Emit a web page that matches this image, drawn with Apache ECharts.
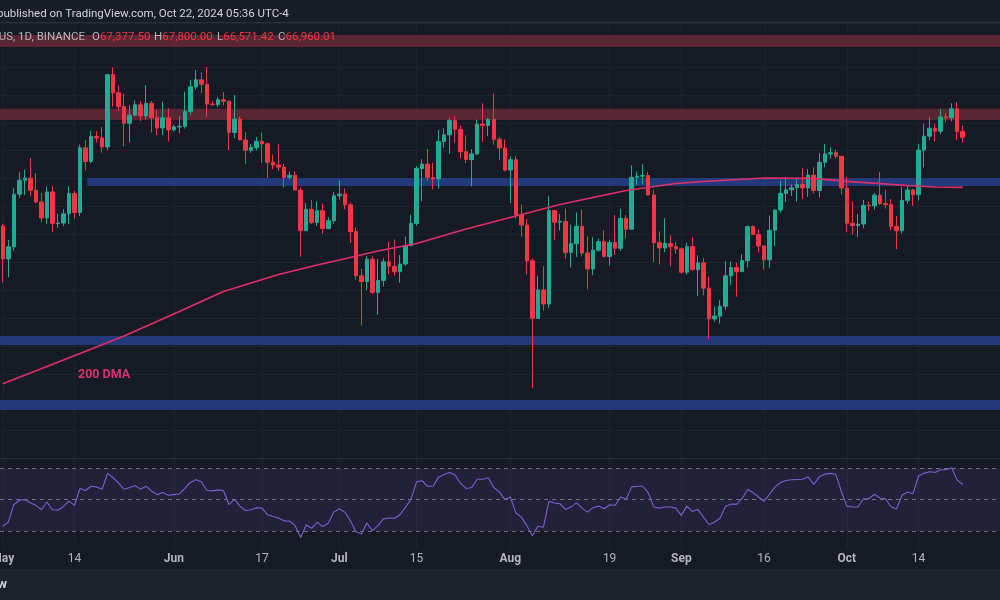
<!DOCTYPE html>
<html><head><meta charset="utf-8">
<script src="https://cdn.jsdelivr.net/npm/echarts@6/dist/echarts.min.js"></script>
<style>html,body{margin:0;padding:0;background:#161a25;}#c{width:1000px;height:600px;}</style>
</head><body><div id="c"></div>
<script>
// ---------- data ----------
const START_DATE = '2024-05-01'; // first daily candle
const OPEN = [
60609,58254,59123,62889,63892,64038,63162,62334,61187,63051,60793,60826,61484,62940,61578,66207,65236,67024,66915,66274,71446,70148,69166,67970,68549,69291,68508,69394,68366,67635,68355,
67491,67706,67752,68805,70568,71083,70757,69342,69305,69648,69540,67314,68263,66774,66043,66229,66677,66505,65175,64975,64829,64096,64253,63181,60277,61804,60865,61707,60427,60987,
62773,62900,62135,60208,57050,56628,58231,55857,56714,58050,57725,57339,57889,59204,60797,64724,65043,64087,63987,66661,67140,68166,67533,65933,65372,65771,67912,67813,68255,66819,66201,
64620,65358,61416,60677,58116,53992,56035,55027,61711,60882,60945,58712,59346,60588,58684,57541,58874,59491,58427,59438,59014,61157,60381,64094,64178,64220,62835,59416,59035,59360,59124,
58974,57301,59132,57487,57971,56160,53962,54160,54869,57042,57635,57339,58128,60571,60005,59182,58192,60309,61759,62948,63201,63348,63578,63339,64262,63152,65173,65769,65858,65603,
63327,60805,60649,60752,62086,62058,62819,62224,62134,60583,60275,62446,63193,62851,66047,67042,67612,67399,68418,68363,69002,67377.5];
const HIGH = [
60780,59602,63320,64494,64646,65494,64390,62986,63421,63469,61490,61819,63450,63118,66444,66752,67451,67400,67700,71516,71980,70666,70096,69250,69610,69562,70687,69560,68908,69500,69045,
67860,68460,70230,71063,71758,71625,71997,69582,69850,70195,69590,69999,68449,67315,66478,66998,67298,66590,65727,66483,65066,64525,64525,63369,62258,62480,62389,62225,61224,63059,
63862,63289,62303,60499,57546,58475,58449,58236,58296,59470,59650,58526,59850,61420,64900,65388,66128,65133,67487,67598,68366,68480,67800,67099,66112,68230,69399,68319,70079,66987,66810,
65593,65596,62150,61117,58305,57050,57736,62745,61752,61464,61858,60711,61578,61800,59849,59818,59700,60284,59617,61400,61834,61400,64955,64513,65050,64481,63212,60235,61166,59945,59459,
59076,59425,59809,58520,58327,56995,54850,55318,58088,58044,57981,58588,60648,60657,60382,59210,61357,61786,63850,64133,63559,64000,64745,64688,64817,65839,66498,66260,66076,65604,
64130,62370,61470,62484,62370,62975,64478,63200,62543,61320,63417,63480,63285,66500,67950,68425,67939,68969,68693,69400,69487,67800];
const LOW = [
56552,56937,58848,62599,62822,62746,62250,60877,60769,60187,60492,60610,60750,61142,61330,64602,65107,66600,65857,66060,69162,68833,66312,66600,68500,68128,68250,67300,67120,67118,66670,
67387,67257,67589,68566,70384,70119,68420,69208,69125,69231,66051,66902,66770,65078,65859,66035,65130,64060,64693,64547,63379,63943,63179,58402,60239,60765,60606,60063,60384,60759,
62488,61806,59400,56771,53485,56018,55724,54260,56290,57157,57050,56542,57756,59204,60632,62373,63853,63238,63300,66222,65777,66573,65441,65106,63456,65704,66640,67066,66428,65323,64530,
62248,61130,59850,57122,49000,53963,54559,54730,59588,60288,58286,57642,58392,58433,56078,57098,58785,58408,57787,58548,58823,59724,60342,63553,63600,62800,58034,57860,58725,57703,58644,
57201,57128,57415,55606,55643,52550,53745,53629,54591,56386,55545,57324,57650,59956,58696,57493,57610,59174,61555,62350,62758,62357,62539,62700,62947,62670,64819,65422,65432,62856,
60164,60000,59828,60460,61689,61798,62128,61860,60300,58946,60088,62208,62050,62442,64800,66750,66666,67177,68020,68100,66760,66571.42];
const CLOSE = [
58254,59123,62889,63892,64038,63162,62334,61187,63051,60793,60826,61484,62940,61578,66207,65236,67024,66915,66274,71446,70148,69166,67970,68549,69291,68508,69394,68366,67635,68355,67491,
67706,67752,68805,70568,71083,70757,69342,69305,69648,69540,67314,68263,66774,66043,66229,66677,66505,65175,64975,64829,64096,64253,63181,60277,61804,60865,61707,60427,60987,62773,
62900,62135,60208,57050,56628,58231,55857,56714,58050,57725,57339,57889,59204,60797,64724,65043,64087,63987,66661,67140,68166,67533,65933,65372,65771,67912,67813,68255,66819,66201,64620,
65358,61416,60677,58116,53992,56035,55027,61711,60882,60945,58712,59346,60588,58684,57541,58874,59491,58427,59438,59014,61157,60381,64094,64178,64220,62835,59416,59035,59360,59124,58974,
57301,59132,57487,57971,56160,53962,54160,54869,57042,57635,57339,58128,60571,60005,59182,58192,60309,61759,62948,63201,63348,63578,63339,64262,63152,65173,65769,65858,65603,63327,
60805,60649,60752,62086,62058,62819,62224,62134,60583,60275,62446,63193,62851,66047,67042,67612,67399,68418,68363,69002,67377.5,66960.01];
const RSI = [
33.0,35.6,46.7,49.5,49.9,48.0,46.3,43.5,48.4,43.5,43.3,45.6,49.0,46.3,57.0,55.7,58.4,58.0,56.5,66.6,63.8,60.4,56.5,57.6,58.7,56.7,58.4,55.2,53.1,54.4,52.7,
53.1,53.5,57.0,60.8,62.5,61.2,55.7,55.5,56.1,55.7,46.7,50.1,45.8,43.0,43.5,44.8,44.5,40.3,39.2,38.3,36.4,36.2,33.4,25.9,33.8,31.7,35.6,32.8,34.9,42.0,
44.1,42.0,36.6,29.6,28.1,35.1,30.2,33.4,37.7,38.3,38.1,40.3,45.2,50.1,61.2,61.9,58.4,58.4,64.2,65.9,67.2,65.5,60.2,57.0,57.6,62.9,62.9,63.8,57.6,54.8,50.1,
51.6,41.6,38.8,33.4,27.0,33.0,32.4,48.8,47.8,47.3,43.7,45.2,48.0,44.5,42.0,44.8,45.8,44.1,46.7,46.3,51.6,50.1,58.0,58.4,58.4,54.2,45.2,44.5,45.2,45.2,44.5,
39.8,45.8,42.4,43.7,38.8,34.1,35.6,38.1,45.6,47.1,46.9,50.5,56.3,54.4,51.6,48.8,53.5,58.0,60.8,62.1,62.5,62.7,62.9,64.4,59.5,64.4,66.1,66.6,65.9,55.2,
45.8,45.2,45.2,50.5,50.5,53.3,51.0,50.5,45.4,43.9,52.7,54.8,53.7,64.9,66.6,67.6,67.2,68.9,68.9,70.2,62.3,59.5];
const DMA_DATES = ['2024-05-01','2024-05-06','2024-05-15','2024-05-23','2024-06-01','2024-06-10','2024-06-20','2024-06-27','2024-07-01','2024-07-08','2024-07-15','2024-07-24','2024-08-02','2024-08-10','2024-08-22','2024-08-31','2024-09-05','2024-09-16','2024-09-25','2024-10-01','2024-10-12','2024-10-17','2024-10-22'];
const DMA_VALUES = [49324,50083,51480,52733,54308,55919,57136,57816,58174,58819,59356,60394,61325,62148,63150,63652,63795,64045,64024,63809,63509,63401,63380];
const TICK_DATES = ['2024-05-01','2024-05-14','2024-06-01','2024-06-17','2024-07-01','2024-07-15','2024-08-01','2024-08-19','2024-09-01','2024-09-16','2024-10-01','2024-10-14'];
const TICK_LABELS = ['May','14','Jun','17','Jul','15','Aug','19','Sep','16','Oct','14'];
const RED_ZONES = [[73430,74280],[68200,69000]];
const BLUE_ZONES = [[63470,64050,'2024-05-16'],[52090,52730,null],[47430,48150,null]];
const RSI_LEVELS = [70,50,30];
const LEGEND_ITEMS = [['O','67,377.50'],['H','67,800.00'],['L','66,571.42'],['C','66,960.01']];

// ---------- helpers ----------
const DAY = 86400000;
const t0 = Date.parse(START_DATE + 'T00:00:00Z');
const dayOf = s => (Date.parse(s + 'T00:00:00Z') - t0) / DAY;
const XMIN = -0.5, XMAX = 180.76;

const candleData = OPEN.map((o, i) => [i, o, CLOSE[i], LOW[i], HIGH[i]]);
const rsiData = RSI.map((v, i) => [i, v]);
const dmaData = DMA_DATES.map((d, i) => [dayOf(d), DMA_VALUES[i]]);
const tickDays = TICK_DATES.map(dayOf);
const labelOf = {};
tickDays.forEach((d, i) => labelOf[d] = TICK_LABELS[i]);

const UP = '#22ab94', DOWN = '#f23645';
const GRIDC = '#1f2330';

const zones = [];
RED_ZONES.forEach(z => zones.push([{yAxis: z[0], itemStyle:{color:'#5b2634'}}, {yAxis: z[1]}]));
BLUE_ZONES.forEach(z => {
  const s = z[2] ? {xAxis: dayOf(z[2]) + 0.33, yAxis: z[0], itemStyle:{color:'#22397a'}} : {yAxis: z[0], itemStyle:{color:'#22397a'}};
  const e = z[2] ? {xAxis: XMAX, yAxis: z[1]} : {yAxis: z[1]};
  zones.push([s, e]);
});

const chart = echarts.init(document.getElementById('c'), null, {renderer: 'canvas'});
const FONT = 'Roboto, "Noto Sans", sans-serif';

const legendX = [92, 154, 217, 278];
const legendGraphics = LEGEND_ITEMS.map((it, i) => ({
  type: 'text', x: legendX[i], y: 37, z: 11,
  style: {text: '{l|' + it[0] + '}{v|' + it[1] + '}', rich: {
    l: {fill: '#b2b5be', fontSize: 11.5, fontFamily: FONT},
    v: {fill: DOWN, fontSize: 11.5, fontFamily: FONT}}, textVerticalAlign: 'middle'}
}));

chart.setOption({
  animation: false,
  backgroundColor: '#161a25',
  grid: [
    {left: 0, right: 0, top: 23, height: 435, outerBoundsMode: 'none', containLabel: false},
    {left: 0, right: 0, top: 459, height: 89, outerBoundsMode: 'none', containLabel: false}
  ],
  xAxis: [
    {type: 'value', gridIndex: 0, min: XMIN, max: XMAX,
     axisLine: {show: false}, axisTick: {show: false, customValues: tickDays},
     axisLabel: {show: false, customValues: tickDays},
     splitLine: {show: true, lineStyle: {color: GRIDC, width: 1}}},
    {type: 'value', gridIndex: 1, min: XMIN, max: XMAX,
     axisLine: {show: false}, axisTick: {show: false, customValues: tickDays},
     axisLabel: {show: true, customValues: tickDays, margin: 5, hideOverlap: false,
       formatter: v => { const t = labelOf[Math.round(v)] || ''; return /^\d+$/.test(t) ? '{n|' + t + '}' : '{m|' + t + '}'; },
       rich: {m: {color: '#b2b5be', fontSize: 12, fontWeight: 'bold', fontFamily: FONT},
              n: {color: '#b2b5be', fontSize: 12, fontFamily: FONT}}},
     splitLine: {show: true, lineStyle: {color: GRIDC, width: 1}}}
  ],
  yAxis: [
    {type: 'value', gridIndex: 0, min: 44000, max: 75146, interval: 2000, position: 'right',
     axisLine: {show: false}, axisTick: {show: false}, axisLabel: {show: false},
     splitLine: {show: true, lineStyle: {color: GRIDC, width: 1}}},
    {type: 'value', gridIndex: 1, min: 19.21, max: 75.71, position: 'right',
     axisLine: {show: false}, axisTick: {show: false}, axisLabel: {show: false},
     splitLine: {show: false}}
  ],
  series: [
    {type: 'candlestick', xAxisIndex: 0, yAxisIndex: 0, data: candleData,
     encode: {x: 0, y: [1, 2, 3, 4]}, barWidth: 4, z: 2,
     itemStyle: {color: UP, color0: DOWN, borderColor: UP, borderColor0: DOWN, borderWidth: 1},
     markArea: {silent: true, z: 1, label: {show: false}, data: zones}},
    {type: 'line', xAxisIndex: 0, yAxisIndex: 0, data: dmaData, showSymbol: false, symbol: 'none',
     lineStyle: {color: '#e0306a', width: 1.6}, z: 3, silent: true},
    {type: 'line', xAxisIndex: 1, yAxisIndex: 1, data: rsiData, showSymbol: false, symbol: 'none',
     lineStyle: {color: '#7e5fd0', width: 1.1}, z: 3, silent: true,
     markArea: {silent: true, label: {show: false}, itemStyle: {color: 'rgba(126,87,194,0.13)'},
       data: [[{yAxis: 30}, {yAxis: 70}]]},
     markLine: {silent: true, symbol: 'none', label: {show: false},
       lineStyle: {color: '#6f7280', type: [4, 4], width: 1},
       data: RSI_LEVELS.map(v => ({yAxis: v}))}}
  ],
  graphic: [
    {type: 'rect', shape: {x: 0, y: 0, width: 1000, height: 22}, style: {fill: '#181c27'}, z: 10},
    {type: 'line', shape: {x1: 0, y1: 22.5, x2: 1000, y2: 22.5}, style: {stroke: '#2a2e39', lineWidth: 1}, z: 10},
    {type: 'text', x: -3, y: 14, z: 11, style: {text: 'published on TradingView.com, Oct 22, 2024 05:36 UTC-4', fill: '#d1d4dc', font: '11.5px ' + FONT, textVerticalAlign: 'middle'}},
    {type: 'text', x: 85, y: 37, z: 11, style: {text: 'TetherUS, 1D, BINANCE', fill: '#b2b5be', font: '11.5px ' + FONT, textAlign: 'right', textVerticalAlign: 'middle'}}
  ].concat(legendGraphics).concat([
    {type: 'text', x: 78, y: 375, z: 11, style: {text: '200 DMA', fill: '#d8336c', font: 'bold 12.5px ' + FONT, textVerticalAlign: 'middle'}},
    {type: 'line', shape: {x1: 0, y1: 458.5, x2: 1000, y2: 458.5}, style: {stroke: '#2a2e39', lineWidth: 1}, z: 10},
    {type: 'rect', shape: {x: 0, y: 569, width: 1000, height: 31}, style: {fill: '#1e222d'}, z: 10},
    {type: 'text', x: 7, y: 585, z: 11, style: {text: 'TradingView', fill: '#d1d4dc', font: 'bold 13px ' + FONT, textAlign: 'right', textVerticalAlign: 'middle'}}
  ])
});
</script></body></html>
